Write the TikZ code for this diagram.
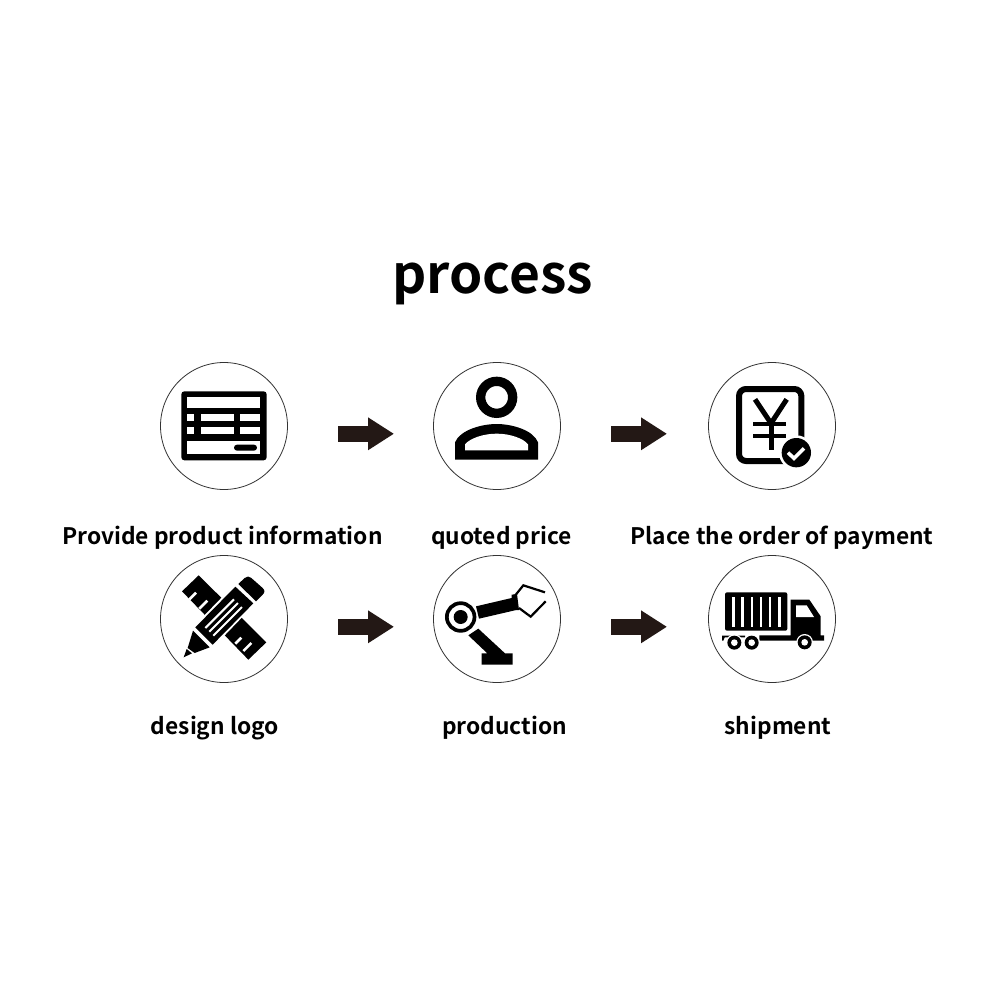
\documentclass[tikz,border=0pt]{standalone}
\usepackage{fontspec}
\setmainfont{Noto Sans CJK SC}[BoldFont={* Bold}]
\usetikzlibrary{arrows.meta}
\definecolor{arrowdark}{HTML}{231815}
\tikzset{
  x=1pt,y=-1pt,
  ring/.style={circle,draw=black!80,line width=0.8pt,minimum size=127pt,inner sep=0pt,fill=white},
  flow/.style={line width=15.7pt,arrowdark,-{Triangle[length=26pt,width=31pt]}},
  lab/.style={anchor=base,font=\bfseries\fontsize{22.75}{28}\selectfont,inner sep=0pt},
  ttl/.style={anchor=base,font=\bfseries\fontsize{53.3}{64}\selectfont,inner sep=0pt},
  zoomed/.style={scale=1/3},
  blk/.style={fill=black,draw=none},
  wht/.style={fill=white,draw=none},
}
\begin{document}
\begin{tikzpicture}
\useasboundingbox (0,0) rectangle (1000,1000);
\fill[white] (0,0) rectangle (1000,1000);
\node[ttl] (title) at (492.5,293) {process};
\node[ring] (c1) at (224,426) {};
\node[ring] (c2) at (497,426) {};
\node[ring] (c3) at (772,426) {};
\node[ring] (c4) at (224,619) {};
\node[ring] (c5) at (497,619) {};
\node[ring] (c6) at (772,619) {};
\coordinate (a1s) at (338,433.8); \coordinate (a1e) at (394,433.8);
\coordinate (a2s) at (611,433.8); \coordinate (a2e) at (667,433.8);
\coordinate (a3s) at (338,626.8); \coordinate (a3e) at (394,626.8);
\coordinate (a4s) at (611,626.8); \coordinate (a4e) at (667,626.8);
\draw[flow] (a1s) -- (a1e);
\draw[flow] (a2s) -- (a2e);
\draw[flow] (a3s) -- (a3e);
\draw[flow] (a4s) -- (a4e);
\node[lab] (t1) at (222.5,544) {Provide product information};
\node[lab] (t2) at (501.5,544) {quoted price};
\node[lab] (t3) at (782,544) {Place the order of payment};
\node[lab] (t4) at (215,734) {design logo};
\node[lab] (t5) at (504.5,734) {production};
\node[lab] (t6) at (778,734) {shipment};
% icon 1 form
\begin{scope}[shift={(150,350)},zoomed]
\fill[blk,rounded corners=3pt] (94,124) rectangle (350,331);
\fill[wht] (112,142) rectangle (331,174);
\foreach \y in {193,232}{
  \fill[wht] (112,\y) rectangle (133,\y+21);
  \fill[wht] (152,\y) rectangle (252,\y+21);
  \fill[wht] (271,\y) rectangle (331,\y+21);
}
\fill[wht] (112,272) rectangle (331,313);
\fill[blk,rounded corners=3pt] (252,284) rectangle (321,302);
\end{scope}
% icon 2 person
\begin{scope}[shift={(425,355)},zoomed]
\draw[line width=9.3pt,black] (215,127) circle (48);
\fill[blk] (90,314) -- (90,262) .. controls (105,225) and (170,207) .. (215,207) .. controls (260,207) and (325,225) .. (339,262) -- (339,314) -- cycle;
\fill[wht] (120,286) -- (120,268) .. controls (135,250) and (175,236) .. (215,236) .. controls (255,236) and (295,250) .. (309,268) -- (309,286) -- cycle;
\end{scope}
% icon 3 payment
\begin{scope}[shift={(700,355)},zoomed]
\draw[line width=6pt,black,rounded corners=7pt] (117,102) rectangle (304,318);
\fill[wht] (289,293) circle (52);
\fill[blk] (289,293) circle (44);
\draw[white,line width=3.6pt] (264,293) -- (282,310) -- (312,280);
\draw[black,line width=5pt] (165,133) -- (213,205) -- (260,133);
\draw[black,line width=5pt] (213,205) -- (213,285);
\draw[black,line width=4.2pt] (160,207) -- (258,207) (160,243) -- (258,243);
\end{scope}
% icon 4 ruler + pencil
\begin{scope}[shift={(152,548)},zoomed]
\fill[blk] (140,82) -- (343,283) -- (289,335) -- (90,130) -- cycle;
\draw[white,line width=2.6pt] (112,154) -- (132,134) (142,182) -- (166,158)
   (250,287) -- (268,269) (274,309) -- (298,285);
\draw[white,line width=5pt,line join=round,fill=white] (254,113) -- (285,85) -- (338,130) -- (306,160) -- (173,298) -- (128,315) -- (95,328) -- (107,300) -- (123,248) -- cycle;
\fill[blk] (259,108) -- (278,90) .. controls (285,84) and (292,84) .. (298,90) -- (332,120) .. controls (339,127) and (339,133) .. (332,140) -- (312,160) -- cycle;
\fill[blk] (250,116) -- (304,166) -- (182,290) -- (130,238) -- cycle;
\draw[white,line width=2pt] (160,240) -- (246,154) (172,251) -- (258,165) (184,263) -- (270,177);
\fill[blk] (123,248) -- (173,298) -- (128,315) -- (107,300) -- cycle;
\fill[blk] (95,328) -- (104,303) -- (120,316) -- cycle;
\end{scope}
% icon 5 robot arm
\begin{scope}[shift={(425,548)},zoomed]
\draw[line width=3.7pt,black] (107,207) circle (41.5);
\fill[blk] (107,207) circle (21);
\fill[blk] (153,175) -- (260,150) -- (260,140) -- (276,138) -- (282,186) -- (274,186) -- (162,212) -- cycle;
\draw[black,line width=2.2pt] (270,143) -- (295,112) -- (360,133);
\draw[black,line width=2.2pt] (282,180) -- (317,206) -- (362,160);
\fill[blk] (130,262) -- (160,242) -- (240,316) -- (263,316) -- (263,350) -- (170,350) -- (170,316) -- (187,316) -- cycle;
\end{scope}
% icon 6 truck
\begin{scope}[shift={(700,548)},zoomed]
\fill[blk,rounded corners=2pt] (75,133) rectangle (262,248);
\foreach \x in {100,127,155,183,210,238}
  \fill[wht] (\x-3.5,148) rectangle (\x+3.5,236);
\fill[blk] (272,155) -- (328,155) -- (362,205) -- (362,262) -- (372,262) -- (372,278) -- (178,278) -- (178,262) -- (272,262) -- cycle;
\fill[wht] (288,172) -- (320,172) -- (342,207) -- (288,207) -- cycle;
\fill[blk] (66,263) -- (135,263) -- (135,268) -- (74,268) -- (70,278) -- (66,278) -- cycle;
\foreach \x/\y in {103/284,155/284,314/283}{
  \fill[wht] (\x,\y) circle (25);
  \fill[blk] (\x,\y) circle (21);
  \fill[wht] (\x,\y) circle (10);
}
\end{scope}
\end{tikzpicture}
\end{document}
